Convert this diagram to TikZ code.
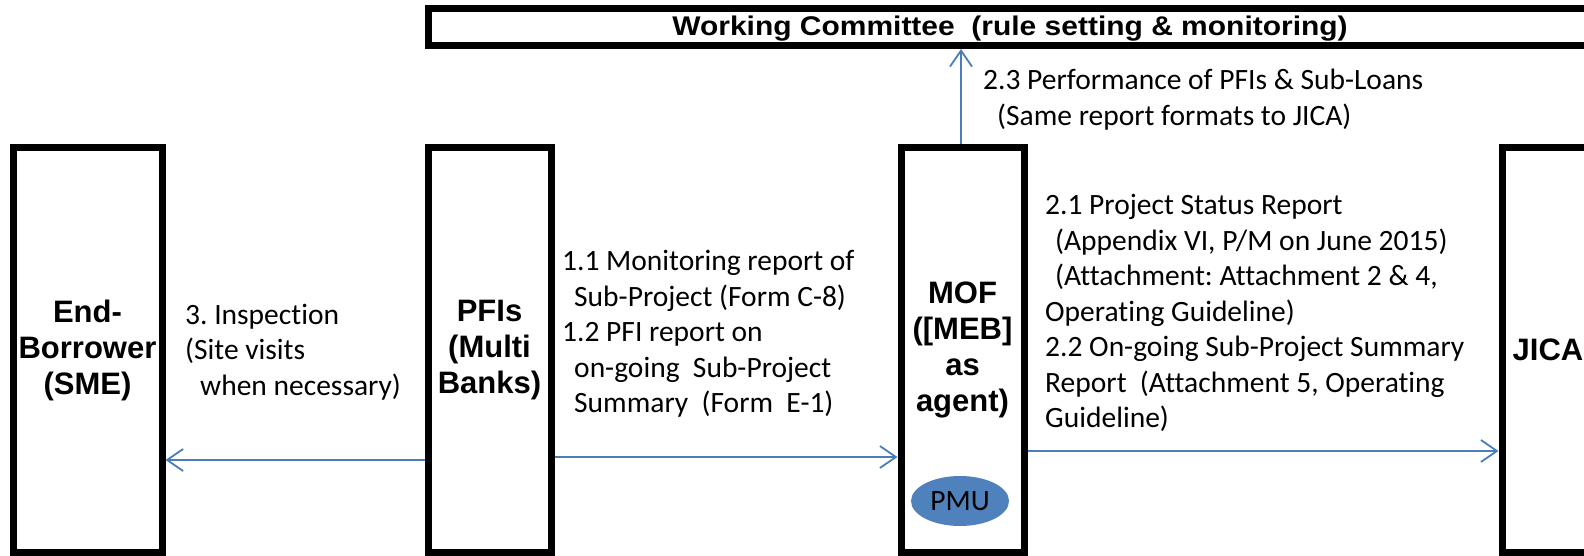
\documentclass[tikz,border=0pt]{standalone}
\usepackage{fontspec}
\setmainfont[Ligatures=NoCommon]{Carlito}
\newfontfamily\boxfont{Liberation Sans}
\newfontfamily\titlefont[FakeStretch=1.11]{Liberation Sans}
\usetikzlibrary{arrows.meta,shapes.geometric}
\definecolor{flowblue}{RGB}{74,126,187}
\definecolor{pmublue}{RGB}{79,129,189}
\frenchspacing
\tikzset{
  party/.style={draw=black, line width=7pt, minimum width=123pt, minimum height=404pt,
    inner sep=0pt, align=center, font=\boxfont\bfseries\fontsize{31}{36}\selectfont},
  flow/.style={draw=flowblue, line width=1.8pt, -{Straight Barb[length=16pt,width=22pt]}},
  note/.style={align=left, inner sep=0pt, anchor=west, font=\fontsize{29.5}{35.5}\selectfont},
}
\begin{document}
\begin{tikzpicture}[x=1pt,y=-1pt]
	\useasboundingbox (0,0) rectangle (1584,556);
	\clip (0,0) rectangle (1584,556);
	
	\node[party, minimum width=149pt] (eb) at (87.5,350) {End-\\Borrower\\(SME)};
	\node[party] (pfis) at (489.5,350) {PFIs\\(Multi\\Banks)};
	\node[party] (mof) at (962.5,350) {MOF\\([MEB]\\as\\agent)};
	\node[party, minimum width=92pt] (jica) at (1548,350) {JICA};
	\node[party, minimum width=1164pt, minimum height=37pt, text height=23pt, text depth=5pt,
	  font=\titlefont\bfseries\fontsize{27}{30}\selectfont] (wc) at (1010,27)
	  {Working Committee\ \ (rule setting \& monitoring)};
	\node[ellipse, fill=pmublue, minimum width=98pt, minimum height=50pt, inner sep=0pt,
	  font=\fontsize{29.5}{35}\selectfont] (pmu) at (960,501) {PMU};
	
	\node[note] (insp) at (185,352) {3. Inspection\\(Site visits\\\hspace*{15pt}when necessary)};
	\node[note] (rep1) at (562,334) {1.1 Monitoring report of\\\hspace*{12pt}Sub-Project (Form C-8)\\1.2 PFI report on\\\hspace*{12pt}on-going\ \ Sub-Project\\\hspace*{12pt}Summary\ \ (Form\ \ E-1)};
	\node[note] (rep2) at (1045,313) {2.1 Project Status Report\\\hspace*{10pt}(Appendix VI, P/M on June 2015)\\\hspace*{10pt}(Attachment: Attachment 2 \& 4,\\Operating Guideline)\\2.2 On-going Sub-Project Summary\\Report\ \ (Attachment 5, Operating\\Guideline)};
	\node[note] (rep3) at (983,99.5) {2.3 Performance of PFIs \& Sub-Loans\\\hspace*{14pt}(Same report formats to JICA)};
	
	\path ([yshift=-110pt]pfis.west) edge[flow] ([yshift=-110pt]eb.east);
	\path ([yshift=-107pt]pfis.east) edge[flow] ([yshift=-107pt]mof.west);
	\path ([yshift=-101pt]mof.east) edge[flow] ([yshift=-101pt]jica.west);
	\path ([xshift=-1.5pt]mof.north) edge[flow] ([xshift=-1.5pt]mof.north |- wc.south);
\end{tikzpicture}
\end{document}
